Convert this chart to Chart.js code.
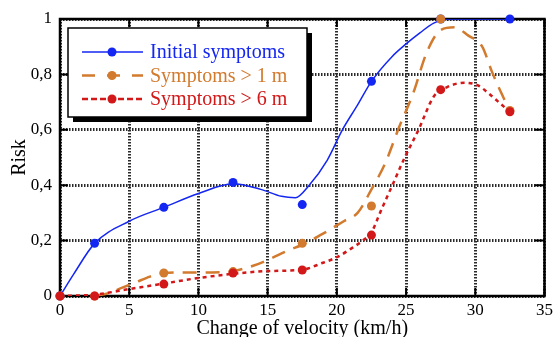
<!DOCTYPE html>
<html>
<head>
<meta charset="utf-8">
<script src="https://cdn.jsdelivr.net/npm/chart.js@4"></script>
<style>
  html, body { margin: 0; padding: 0; background: #fff; }
  #wrap { width: 557px; height: 337px; position: relative; }
</style>
</head>
<body>
<div id="wrap"><canvas id="risk"></canvas></div>
<script>
// measured points
const velocity = [0, 2.5, 7.5, 12.5, 17.5, 22.5, 27.5, 32.5];
const initialRisk = [0, 0.19, 0.32, 0.41, 0.33, 0.775, 1, 1];
const risk1m = [0, 0, 0.083, 0.088, 0.19, 0.325, 1, 0.67];
const risk6m = [0, 0, 0.043, 0.083, 0.094, 0.22, 0.745, 0.665];

// smoothed curves as drawn in the figure
const initialFitX = [0, 1, 2.5, 5, 7.5, 10, 12.5, 14.5, 16, 17, 18, 19.3, 20.4, 21.5, 22.5, 24, 25, 26, 27, 28, 30, 32.5];
const initialFitY = [0, 0.08, 0.19, 0.27, 0.32, 0.37, 0.405, 0.385, 0.36, 0.355, 0.4, 0.49, 0.6, 0.69, 0.775, 0.865, 0.91, 0.95, 0.985, 1, 1, 1];
const fit1mX = [2.5, 3.5, 4.5, 5.5, 6.5, 7.5, 9, 11, 12.5, 14, 15, 16.5, 17.5, 19, 20.5, 21.5, 22.5, 23.5, 24.5, 25.5, 26.5, 27.5, 28.5, 29.5, 30.5, 31.2, 32, 32.5];
const fit1mY = [0, 0.01, 0.03, 0.05, 0.07, 0.083, 0.085, 0.085, 0.09, 0.11, 0.13, 0.165, 0.185, 0.225, 0.27, 0.3, 0.385, 0.48, 0.61, 0.73, 0.88, 0.96, 0.97, 0.94, 0.9, 0.81, 0.72, 0.67];
const fit6mX = [0, 2.5, 5, 7.5, 10, 12.5, 15, 17.5, 19, 20, 21, 22, 22.5, 23.2, 24.1, 24.9, 25.9, 27, 28, 29.2, 30.2, 31, 31.8, 32.5];
const fit6mY = [0, 0.005, 0.025, 0.045, 0.065, 0.08, 0.09, 0.095, 0.12, 0.14, 0.17, 0.205, 0.23, 0.31, 0.41, 0.5, 0.6, 0.72, 0.755, 0.77, 0.76, 0.73, 0.695, 0.665];

const yTickLabels = ['0', '0,2', '0,4', '0,6', '0,8', '1'];
const seriesNames = ['Initial symptoms', 'Symptoms > 1 m', 'Symptoms > 6 m'];

const BLUE = '#1426f2', ORANGE = '#d27a2e', RED = '#d21818';
const styles = [
  { color: BLUE, width: 1.5, dash: [], legendDash: [] },
  { color: ORANGE, width: 2.5, dash: [14, 9], legendDash: [13, 12] },
  { color: RED, width: 2.5, dash: [4, 4], legendDash: [6, 3] }
];

Chart.defaults.font.family = '"Liberation Serif", "Times New Roman", serif';
Chart.defaults.color = '#000';

const pts = (xs, ys) => xs.map((x, i) => ({ x: x, y: ys[i] }));

const curve = (xs, ys, s, order) => ({
  data: pts(xs, ys),
  showLine: true,
  pointRadius: 0,
  borderColor: s.color,
  borderWidth: s.width,
  borderDash: s.dash,
  cubicInterpolationMode: 'monotone',
  order: order
});
const marks = (ys, s, order) => ({
  data: pts(velocity, ys),
  showLine: false,
  pointRadius: 4.5,
  pointBackgroundColor: s.color,
  pointBorderColor: s.color,
  pointBorderWidth: 0,
  clip: false,
  order: order
});

// frame with inward ticks on all four sides
const frameTicks = {
  id: 'frameTicks',
  beforeDatasetsDraw(chart) {
    const { ctx, chartArea: a, scales: { x, y } } = chart;
    ctx.save();
    ctx.strokeStyle = '#000';
    ctx.lineWidth = 2;
    ctx.beginPath();
    x.ticks.forEach(t => {
      const px = x.getPixelForValue(t.value);
      ctx.moveTo(px, a.bottom); ctx.lineTo(px, a.bottom - 8);
      ctx.moveTo(px, a.top); ctx.lineTo(px, a.top + 8);
    });
    y.ticks.forEach(t => {
      const py = y.getPixelForValue(t.value);
      ctx.moveTo(a.left, py); ctx.lineTo(a.left + 8, py);
      ctx.moveTo(a.right, py); ctx.lineTo(a.right - 10, py);
    });
    ctx.stroke();
    ctx.lineWidth = 2.5;
    ctx.strokeRect(a.left, a.top, a.width, a.height);
    ctx.restore();
  }
};

// boxed legend with drop shadow
const boxLegend = {
  id: 'boxLegend',
  afterDatasetsDraw(chart) {
    const { ctx, chartArea: a } = chart;
    const x0 = a.left + 8, y0 = a.top + 9, w = 239, h = 89;
    ctx.save();
    ctx.fillStyle = '#000';
    ctx.fillRect(x0 + 5, y0 + 5, w, h);
    ctx.fillStyle = '#fff';
    ctx.fillRect(x0, y0, w, h);
    ctx.strokeStyle = '#000';
    ctx.lineWidth = 1.5;
    ctx.strokeRect(x0, y0, w, h);
    ctx.font = '20px "Liberation Serif", serif';
    ctx.textBaseline = 'middle';
    seriesNames.forEach((name, i) => {
      const s = styles[i];
      const cy = y0 + 24 + i * 23.5;
      ctx.strokeStyle = s.color;
      ctx.lineWidth = s.width;
      ctx.setLineDash(s.legendDash);
      ctx.beginPath();
      ctx.moveTo(x0 + 14, cy);
      ctx.lineTo(x0 + 75, cy);
      ctx.stroke();
      ctx.setLineDash([]);
      ctx.fillStyle = s.color;
      ctx.beginPath();
      ctx.arc(x0 + 44, cy, 4.5, 0, Math.PI * 2);
      ctx.fill();
      ctx.fillText(name, x0 + 82, cy + 1);
    });
    ctx.restore();
  }
};

const gridStyle = { color: '#2a2a2a', lineWidth: 3, drawTicks: false };

new Chart(document.getElementById('risk'), {
  type: 'scatter',
  data: {
    datasets: [
      curve(initialFitX, initialFitY, styles[0], 6),
      marks(initialRisk, styles[0], 5),
      curve(fit1mX, fit1mY, styles[1], 4),
      marks(risk1m, styles[1], 3),
      curve(fit6mX, fit6mY, styles[2], 2),
      marks(risk6m, styles[2], 1)
    ]
  },
  options: {
    responsive: true,
    maintainAspectRatio: false,
    animation: false,
    layout: { autoPadding: false, padding: { top: 19, right: 7, left: 0, bottom: 0 } },
    plugins: { legend: { display: false }, tooltip: { enabled: false } },
    scales: {
      x: {
        type: 'linear', min: 0, max: 35,
        border: { display: false, dash: [1.5, 1.5] },
        grid: gridStyle,
        ticks: { stepSize: 5, padding: 4, font: { size: 17 } },
        title: { display: true, text: 'Change of velocity (km/h)', font: { size: 20 }, padding: { top: 0, bottom: -4 } },
        afterFit: s => { s.height = 41; }
      },
      y: {
        type: 'linear', min: 0, max: 1,
        border: { display: false, dash: [1.5, 1.5] },
        grid: gridStyle,
        ticks: { stepSize: 0.2, padding: 8, font: { size: 17 }, callback: (v, i) => yTickLabels[i] },
        title: { display: true, text: 'Risk', font: { size: 20 }, padding: { top: 8, bottom: 0 } },
        afterFit: s => { s.width = 60; }
      }
    }
  },
  plugins: [frameTicks, boxLegend]
});
</script>
</body>
</html>
